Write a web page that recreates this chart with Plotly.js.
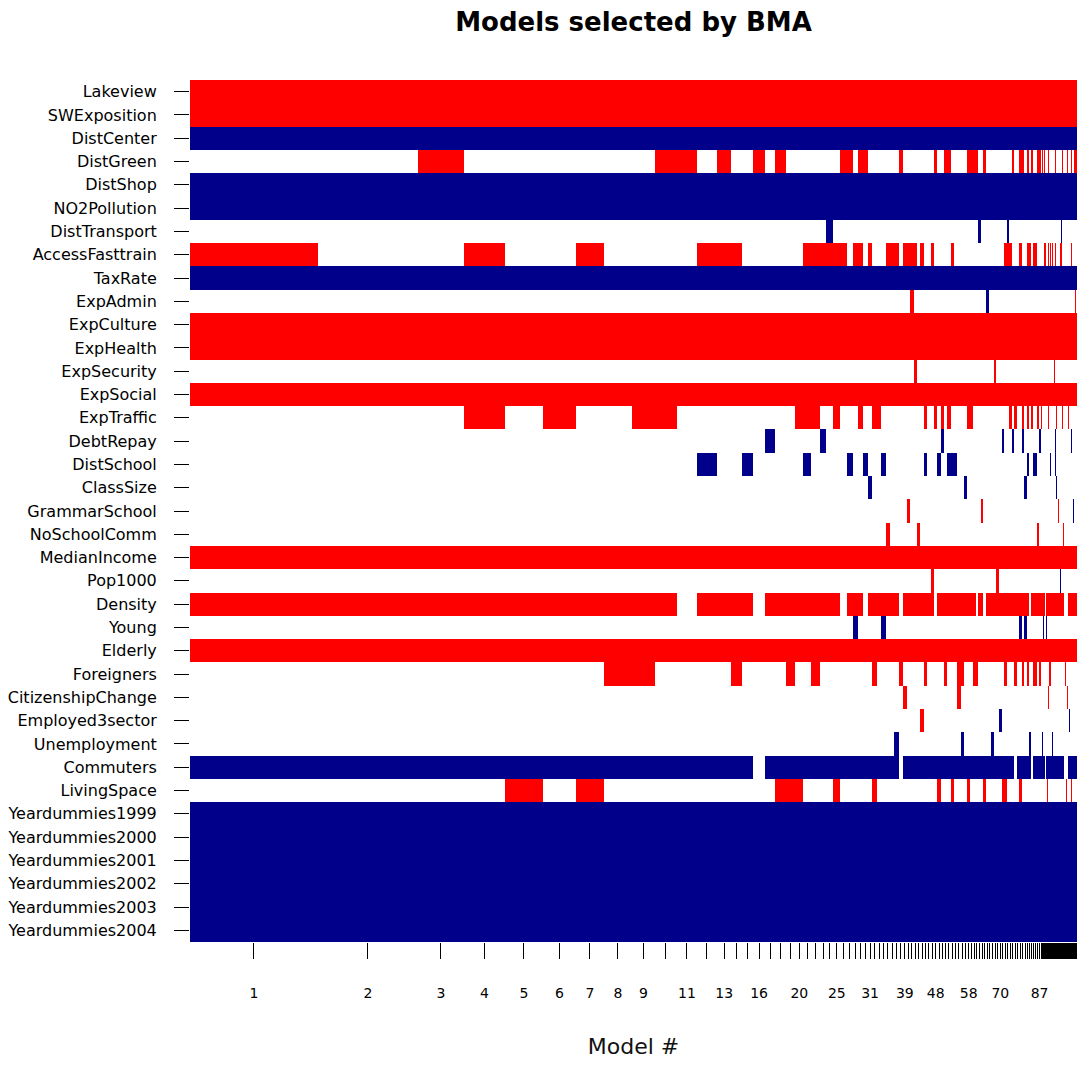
<!DOCTYPE html>
<html><head><meta charset="utf-8">
<script src="https://cdn.plot.ly/plotly-3.0.1.min.js"></script>
<style>html,body{margin:0;padding:0;background:#fff;overflow:hidden}#chart{width:1077px;height:1066px}</style>
</head><body><div id="chart"></div>
<script>
// Variables (rows, top to bottom)
const variables = ["Lakeview","SWExposition","DistCenter","DistGreen","DistShop","NO2Pollution","DistTransport","AccessFasttrain","TaxRate","ExpAdmin","ExpCulture","ExpHealth","ExpSecurity","ExpSocial","ExpTraffic","DebtRepay","DistSchool","ClassSize","GrammarSchool","NoSchoolComm","MedianIncome","Pop1000","Density","Young","Elderly","Foreigners","CitizenshipChange","Employed3sector","Unemployment","Commuters","LivingSpace","Yeardummies1999","Yeardummies2000","Yeardummies2001","Yeardummies2002","Yeardummies2003","Yeardummies2004"];

// Posterior model weights (relative, models 1..123) -> column widths
const postProb = [128,100,46,41,38,33,28,28,23,22,20,20,14.5,11,10.5,12.5,10,10.5,9.5,8,8,8.5,6.5,7,7,6.5,6,5.5,4.5,5,4.5,4.5,4.5,4.5,4.3,4.3,4.2,4.2,4,
3.4,3.4,3.4,3.4,3.4,3.4,3.4,3.4,3.4,
3.3,3.3,3.3,3.3,3.3,3.3,3.3,3.3,3.3,3.3,
2.6,2.6,2.6,2.6,2.6,2.6,2.6,2.6,2.6,2.6,2.6,2.6,
2.5,2.5,2.5,2.5,2.5,2.5,2.5,2.5,2.5,2.5,
2,2,2,2,2,2,2,
1,1,1,1,1,1,1,1,1,1,1,1,1,1,1,1,1,1,1,1,1,1,1,1,1,1,1,1,1,1,1,1,1,1,1,1.4];

// Model numbers that carry a printed tick label
const labeledModels = [1,2,3,4,5,6,7,8,9,11,13,16,20,25,31,39,48,58,70,87];

// Models in which each variable enters with a positive coefficient (red)
const positiveModels = [
  "1-123", "1-123", "",
  "3 10-11 13 16 18 26-27 29-30 38 48 51-52 58-61 64 75 78-79 81 83 86-87 89 91 95 102 109 114 118 121-123",
  "", "", "",
  "1 4 7 12-14 21-26 28-29 31 35-37 39-42 44 47 53 72-74 78 81-82 84-85 91-92 95 97 99 102 107-108 118",
  "",
  "41 122",
  "1-123", "1-123",
  "42 68 101",
  "1-123",
  "4 6 9-10 20-22 25 29 32-33 45 48 50 52 58-59 74 76 79 81 83 86 88 95 103 109 115",
  "", "", "",
  "40 63 105",
  "35 43 86 110",
  "1-123",
  "47 69",
  "1-10 12-15 17-25 27-29 31-37 39-47 49-60 62-63 65-81 83-91 93-110 115-123",
  "",
  "1-123",
  "8-9 14 19 22 32 38 45 51 55-56 60-61 72 76 79 81 84-85 87 96-97 112",
  "39 55 95 114",
  "44",
  "", "",
  "5 7 18-20 25 32 49 53 58 64 71-72 78 94 113 118",
  "", "", "", "", "", ""
];

// Models in which each variable enters with a negative coefficient (blue)
const negativeModels = [
  "", "", "1-123", "", "1-123", "1-123",
  "24 62 73 108",
  "",
  "1-123",
  "65",
  "", "", "", "", "",
  "17 23 50 71 75 79 87 102 118",
  "12 15 21 27 30 34 45 49 52-54 81 84-85 97 102",
  "31 57 80 103",
  "120",
  "",
  "",
  "107",
  "",
  "28 34 78 80 90 93",
  "", "", "",
  "70 116",
  "37 56 67 82 89 99",
  "1-15 17-37 39-75 77-82 84-91 93-110 115-123",
  "",
  "1-123", "1-123", "1-123", "1-123", "1-123", "1-123"
];

function parseRuns(s) {
  const out = [];
  if (!s) return out;
  s.trim().split(/\s+/).forEach(tok => {
    const parts = tok.split('-').map(Number);
    const a = parts[0], b = parts.length > 1 ? parts[1] : parts[0];
    for (let k = a; k <= b; k++) out.push(k);
  });
  return out;
}

const nModels = postProb.length;
const z = variables.map((v, i) => {
  const row = new Array(nModels).fill(0);
  parseRuns(positiveModels[i]).forEach(m => { if (m <= nModels) row[m - 1] = 1; });
  parseRuns(negativeModels[i]).forEach(m => { if (m <= nModels) row[m - 1] = -1; });
  return row;
});

const xEdges = [0];
postProb.forEach(p => xEdges.push(xEdges[xEdges.length - 1] + p));
const total = xEdges[xEdges.length - 1];
const centers = postProb.map((p, i) => (xEdges[i] + xEdges[i + 1]) / 2);
const tickText = postProb.map((p, i) => labeledModels.includes(i + 1) ? String(i + 1) : '');

const trace = {
  type: 'heatmap',
  x: xEdges,
  y: variables,
  z: z,
  zmin: -1, zmax: 1,
  colorscale: [[0, '#00008B'], [0.3333, '#00008B'], [0.3334, '#FFFFFF'], [0.6666, '#FFFFFF'], [0.6667, '#FF0000'], [1, '#FF0000']],
  showscale: false,
  hoverongaps: false
};

const layout = {
  width: 1077, height: 1066,
  margin: {l: 190, r: 0, t: 80, b: 124},
  paper_bgcolor: '#FFFFFF', plot_bgcolor: '#FFFFFF',
  title: {
    text: '<b>Models selected by BMA</b>',
    font: {family: 'DejaVu Sans', size: 26, color: '#000'},
    x: 0.5, xref: 'paper', y: 1 - 22 / 1066, yref: 'container', yanchor: 'middle', xanchor: 'center'
  },
  xaxis: {
    range: [0, total],
    tickmode: 'array', tickvals: centers, ticktext: tickText,
    ticks: 'outside', ticklen: 16, tickwidth: 1, tickcolor: '#000',
    tickangle: 0,
    showgrid: false, zeroline: false, showline: false,
    tickfont: {family: 'DejaVu Sans', size: 14, color: '#000'},
    ticklabelstandoff: 22,
    title: {text: 'Model #', font: {family: 'DejaVu Sans', size: 22, color: '#111'}, standoff: 38},
    fixedrange: true
  },
  yaxis: {
    type: 'category', categoryorder: 'array', categoryarray: variables,
    autorange: 'reversed',
    ticks: 'outside', ticklen: 15, tickwidth: 1, tickcolor: '#000',
    showgrid: false, zeroline: false, showline: false,
    tickfont: {family: 'DejaVu Sans', size: 16, color: '#000'},
    ticklabelstandoff: 14,
    fixedrange: true
  },
  showlegend: false
};

Plotly.newPlot('chart', [trace], layout, {displayModeBar: false, staticPlot: true});
</script>
</body></html>
